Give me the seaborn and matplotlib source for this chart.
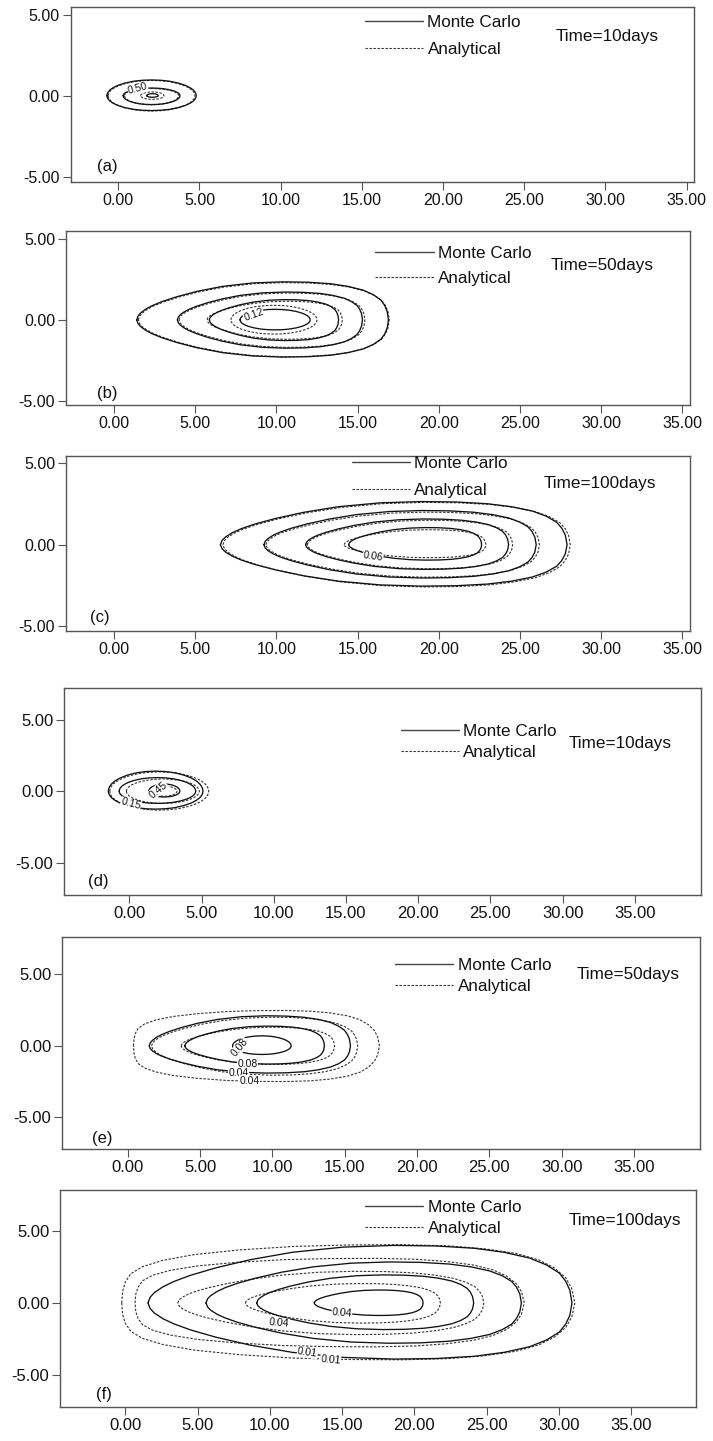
import numpy as np
import pandas as pd
import matplotlib.pyplot as plt
import seaborn as sns
from matplotlib.lines import Line2D

sns.set_style('ticks')
plt.rcParams['font.family'] = ['Liberation Sans', 'DejaVu Sans']

# ring outline profiles: position along ring (0..1) and relative half height
egg_t = [0, 0.005, 0.015, 0.035, 0.06, 0.1, 0.16, 0.24, 0.34, 0.46, 0.58, 0.68, 0.77, 0.84, 0.9, 0.94, 0.97, 0.985, 0.995, 1.0]
egg_h = [0, 0.1, 0.18, 0.28, 0.37, 0.48, 0.61, 0.75, 0.88, 0.97, 1.0, 0.99, 0.95, 0.88, 0.78, 0.66, 0.52, 0.38, 0.22, 0]
oval_t = [0, 0.004, 0.015, 0.035, 0.07, 0.12, 0.2, 0.3, 0.4, 0.5, 0.6, 0.7, 0.8, 0.88, 0.93, 0.965, 0.985, 0.996, 1.0]
oval_h = [0, 0.13, 0.24, 0.37, 0.51, 0.65, 0.8, 0.92, 0.98, 1.0, 0.98, 0.92, 0.8, 0.65, 0.51, 0.37, 0.24, 0.13, 0]
blunt_t = [0, 0.002, 0.008, 0.02, 0.045, 0.09, 0.16, 0.26, 0.38, 0.5, 0.62, 0.72, 0.8, 0.87, 0.92, 0.955, 0.98, 0.993, 1.0]
blunt_h = [0, 0.2, 0.36, 0.5, 0.62, 0.73, 0.83, 0.91, 0.97, 0.995, 1.0, 0.98, 0.93, 0.85, 0.74, 0.6, 0.43, 0.25, 0]
shapes = {'egg': (egg_t, egg_h), 'oval': (oval_t, oval_h), 'blunt': (blunt_t, blunt_h)}

# (a) Time=10days
a_mc_xl = [-0.7, 0.3, 1.75]
a_mc_xr = [4.8, 3.8, 2.46]
a_mc_top = [0.97, 0.47, 0.12]
a_mc_bot = [-0.92, -0.55, -0.1]
a_mc_shape = ['oval', 'oval', 'oval']
a_an_xl = [-0.62, 0.38, 1.38]
a_an_xr = [4.72, 3.72, 2.81]
a_an_top = [0.94, 0.44, 0.23]
a_an_bot = [-0.95, -0.56, -0.23]
a_an_shape = ['oval', 'oval', 'oval']
a_labels = [('0.50', 1.2, 0.42, 15)]

# (b) Time=50days
b_mc_xl = [1.4, 3.9, 5.87, 7.76]
b_mc_xr = [16.9, 15.3, 13.83, 12.08]
b_mc_top = [2.35, 1.72, 1.25, 0.65]
b_mc_bot = [-2.3, -1.75, -1.28, -0.62]
b_mc_shape = ['egg', 'egg', 'egg', 'oval']
b_an_xl = [1.5, 4.0, 5.73, 7.2]
b_an_xr = [16.95, 15.45, 14.06, 12.5]
b_an_top = [2.3, 1.66, 1.15, 0.9]
b_an_bot = [-2.28, -1.7, -1.2, -0.88]
b_an_shape = ['egg', 'egg', 'egg', 'oval']
b_labels = [('0.12', 8.6, 0.3, 20)]

# (c) Time=100days
c_mc_xl = [6.55, 9.23, 11.8, 14.45]
c_mc_xr = [27.9, 26.0, 24.3, 22.64]
c_mc_top = [2.65, 2.1, 1.58, 1.05]
c_mc_bot = [-2.55, -2.05, -1.52, -0.95]
c_mc_shape = ['egg', 'egg', 'egg', 'egg']
c_an_xl = [6.7, 9.35, 11.9, 14.17]
c_an_xr = [28.1, 26.2, 24.55, 22.9]
c_an_top = [2.6, 2.0, 1.5, 0.92]
c_an_bot = [-2.6, -2.0, -1.48, -0.8]
c_an_shape = ['egg', 'egg', 'egg', 'egg']
c_labels = [('0.06', 15.95, -0.75, -8)]

# (d) Time=10days
d_mc_xl = [-1.45, -0.7, 1.35]
d_mc_xr = [5.1, 4.6, 3.5]
d_mc_top = [1.4, 0.95, 0.5]
d_mc_bot = [-1.25, -0.85, -0.4]
d_mc_shape = ['oval', 'oval', 'oval']
d_an_xl = [-1.35, -0.2, 1.6]
d_an_xr = [5.5, 4.85, 3.3]
d_an_top = [1.35, 0.85, 0.35]
d_an_bot = [-1.32, -0.85, -0.35]
d_an_shape = ['oval', 'oval', 'oval']
d_labels = [('0.45', 2.0, 0.1, 40), ('0.15', 0.1, -0.9, -15)]

# (e) Time=50days
e_mc_xl = [1.49, 3.95, 7.25]
e_mc_xr = [15.4, 13.6, 11.3]
e_mc_top = [2.1, 1.38, 0.7]
e_mc_bot = [-1.9, -1.27, -0.6]
e_mc_shape = ['egg', 'egg', 'oval']
e_an_xl = [0.4, 1.65, 3.7]
e_an_xr = [17.4, 15.9, 14.3]
e_an_top = [2.47, 2.0, 1.3]
e_an_bot = [-2.49, -2.05, -1.3]
e_an_shape = ['blunt', 'egg', 'egg']
e_labels = [('0.08', 7.76, -0.1, 50), ('0.08', 8.3, -1.27, 0),
            ('0.04', 7.66, -1.87, 0), ('0.04', 8.4, -2.42, 0)]

# (f) Time=100days
f_mc_xl = [1.57, 5.58, 9.09, 13.07]
f_mc_xr = [30.9, 27.4, 24.1, 20.6]
f_mc_top = [4.0, 2.85, 1.95, 0.9]
f_mc_bot = [-3.9, -2.8, -1.85, -0.87]
f_mc_shape = ['egg', 'egg', 'egg', 'egg']
f_an_xl = [-0.25, 0.67, 3.62, 8.3]
f_an_xr = [31.1, 27.6, 24.8, 21.8]
f_an_top = [4.05, 3.1, 2.2, 1.35]
f_an_bot = [-3.95, -3.05, -2.2, -1.4]
f_an_shape = ['blunt', 'blunt', 'egg', 'egg']
f_labels = [('0.04', 14.98, -0.7, -5), ('0.04', 10.65, -1.4, -5),
            ('0.01', 12.6, -3.45, -8), ('0.01', 14.2, -3.95, -5)]

x_ticks = [0, 5, 10, 15, 20, 25, 30, 35]
y_ticks = [-5, 0, 5]


def rings_frame(xl, xr, top, bot, shape, tag):
    parts = []
    for i in range(len(xl)):
        t, h = shapes[shape[i]]
        t = np.array(t)
        h = np.array(h)
        x = xl[i] + t * (xr[i] - xl[i])
        xs = np.concatenate([x, x[::-1]])
        ys = np.concatenate([top[i] * h, (bot[i] * h)[::-1]])
        parts.append(pd.DataFrame({'x': xs, 'y': ys, 'ring': f'{tag}{i}'}))
    return pd.concat(parts, ignore_index=True)


panels = [
    dict(tag='(a)', time='Time=10days', box=(70.7, 6.7, 694, 181.7), xlim=(-2.93, 35.45), ylim=(-5.31, 5.49),
         mc=(a_mc_xl, a_mc_xr, a_mc_top, a_mc_bot, a_mc_shape), an=(a_an_xl, a_an_xr, a_an_top, a_an_bot, a_an_shape),
         labels=a_labels, leg=(15.2, 3.67), tpos=(26.9, 3.64), lpos=(0.058, 0.086), fs=11.5, ls=0.68),
    dict(tag='(b)', time='Time=50days', box=(66.3, 230.7, 690.3, 405.3), xlim=(-2.94, 35.49), ylim=(-5.28, 5.51),
         mc=(b_mc_xl, b_mc_xr, b_mc_top, b_mc_bot, b_mc_shape), an=(b_an_xl, b_an_xr, b_an_top, b_an_bot, b_an_shape),
         labels=b_labels, leg=(16.1, 3.31), tpos=(26.9, 3.34), lpos=(0.066, 0.069), fs=11.5, ls=0.6),
    dict(tag='(c)', time='Time=100days', box=(66.3, 455.7, 690.3, 630.7), xlim=(-2.94, 35.49), ylim=(-5.29, 5.47),
         mc=(c_mc_xl, c_mc_xr, c_mc_top, c_mc_bot, c_mc_shape), an=(c_an_xl, c_an_xr, c_an_top, c_an_bot, c_an_shape),
         labels=c_labels, leg=(14.65, 4.16), tpos=(26.45, 3.79), lpos=(0.054, 0.077), fs=11.5, ls=0.65),
    dict(tag='(d)', time='Time=10days', box=(64.3, 688, 700.7, 895), xlim=(-4.5, 39.56), ylim=(-7.24, 7.2),
         mc=(d_mc_xl, d_mc_xr, d_mc_top, d_mc_bot, d_mc_shape), an=(d_an_xl, d_an_xr, d_an_top, d_an_bot, d_an_shape),
         labels=d_labels, leg=(18.8, 3.45), tpos=(30.4, 3.35), lpos=(0.053, 0.064), fs=12, ls=0.35),
    dict(tag='(e)', time='Time=50days', box=(62.3, 937, 699.7, 1149.3), xlim=(-4.52, 39.54), ylim=(-7.22, 7.6),
         mc=(e_mc_xl, e_mc_xr, e_mc_top, e_mc_bot, e_mc_shape), an=(e_an_xl, e_an_xr, e_an_top, e_an_bot, e_an_shape),
         labels=e_labels, leg=(18.5, 4.91), tpos=(31.0, 5.0), lpos=(0.062, 0.052), fs=12, ls=0.35),
    dict(tag='(f)', time='Time=100days', box=(60.3, 1190, 695.7, 1406.7), xlim=(-4.5, 39.46), ylim=(-7.21, 7.85),
         mc=(f_mc_xl, f_mc_xr, f_mc_top, f_mc_bot, f_mc_shape), an=(f_an_xl, f_an_xr, f_an_top, f_an_bot, f_an_shape),
         labels=f_labels, leg=(16.6, 5.92), tpos=(30.7, 5.7), lpos=(0.068, 0.054), fs=12, ls=0.35),
]

W, H = 713, 1441
fig = plt.figure(figsize=(W / 100, H / 100), dpi=100)
dash = (0, (2.2, 1.4))

for p in panels:
    l, t, r, b = p['box']
    ax = fig.add_axes([l / W, 1 - b / H, (r - l) / W, (b - t) / H])
    mc_df = rings_frame(*p['mc'], 'mc')
    an_df = rings_frame(*p['an'], 'an')
    sns.lineplot(data=an_df, x='x', y='y', units='ring', estimator=None, sort=False,
                 color='#333333', linewidth=0.8, linestyle=dash, ax=ax)
    sns.lineplot(data=mc_df, x='x', y='y', units='ring', estimator=None, sort=False,
                 color='#111111', linewidth=0.95, ax=ax)
    for txt, lx, ly, rot in p['labels']:
        ax.text(lx, ly, txt, fontsize=7.5, rotation=rot, ha='center', va='center', color='#111111',
                bbox=dict(facecolor='white', edgecolor='none', pad=0.2))
    ax.set_xlim(p['xlim'])
    ax.set_ylim(p['ylim'])
    ax.set_xticks(x_ticks)
    ax.set_yticks(y_ticks)
    ax.set_xticklabels([f'{v:.2f}' for v in x_ticks])
    ax.set_yticklabels([f'{v:.2f}' for v in y_ticks])
    ax.set_xlabel('')
    ax.set_ylabel('')
    ax.tick_params(direction='out', length=6, width=0.8, color='#555555', labelcolor='#111111',
                   labelsize=p['fs'], pad=2)
    for s in ax.spines.values():
        s.set_visible(True)
        s.set_color('#555555')
        s.set_linewidth(1.0)
    handles = [Line2D([], [], color='#444444', lw=1.0),
               Line2D([], [], color='#333333', lw=0.8, linestyle=dash)]
    ax.legend(handles, ['Monte Carlo', 'Analytical'], loc='center left', bbox_to_anchor=p['leg'],
              bbox_transform=ax.transData, frameon=False, fontsize=12.3, borderpad=0, borderaxespad=0,
              handlelength=3.4, handletextpad=0.25, labelspacing=p['ls'], labelcolor='#111111')
    ax.text(p['tpos'][0], p['tpos'][1], p['time'], fontsize=12.3, ha='left', va='center', color='#111111')
    ax.text(p['lpos'][0], p['lpos'][1], p['tag'], fontsize=12, ha='center', va='center',
            transform=ax.transAxes, color='#111111')

fig.savefig('out.png', dpi=100)
